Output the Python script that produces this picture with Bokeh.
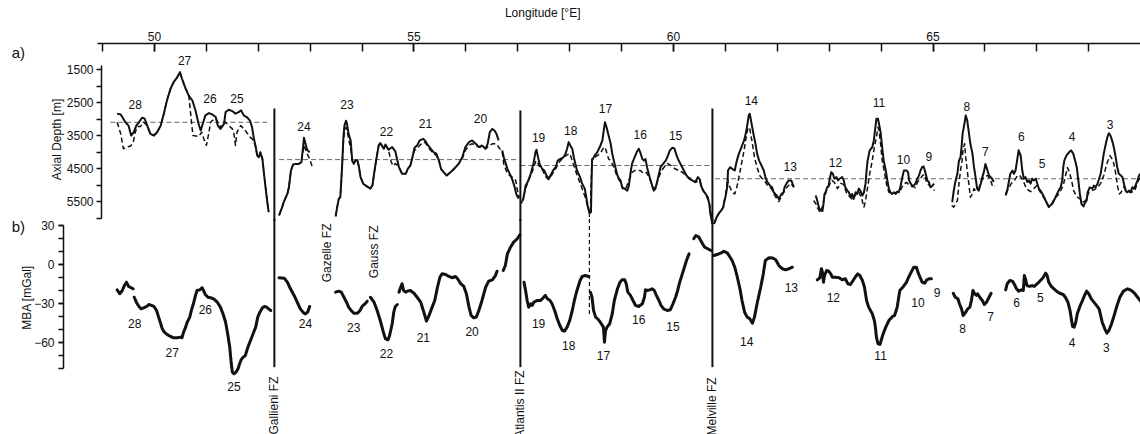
import math
from bokeh.plotting import figure
from bokeh.models import Range1d, LinearAxis, FixedTicker
from bokeh.core.properties import value
from bokeh.embed import file_html
from bokeh.resources import INLINE

FONT = "Liberation Sans"
INK = "#111111"

# ---------------- a) axial depth (m) along the ridge axis ----------------
# section west of Gallieni FZ (segments 28-25)
s1_lon = [49.28, 49.35, 49.44, 49.50, 49.55, 49.60, 49.65, 49.70, 49.76, 49.81, 49.86, 49.92, 49.99, 50.05,
          50.12, 50.18, 50.24, 50.31, 50.37, 50.44, 50.49, 50.53, 50.60, 50.66, 50.73, 50.79, 50.85, 50.89,
          50.94, 50.98, 51.05, 51.11, 51.18, 51.22, 51.27, 51.34, 51.37, 51.43, 51.50, 51.56, 51.62, 51.67,
          51.72, 51.79, 51.84, 51.88, 51.91, 51.95, 51.98, 52.01, 52.04, 52.08, 52.11, 52.14, 52.17, 52.20]
s1_dep = [2840, 2860, 3100, 3200, 3500, 3400, 3200, 3100, 2960, 2990, 3200, 3450, 3500, 3400,
          3200, 2840, 2440, 2080, 1880, 1730, 1580, 1780, 2080, 2290, 2440, 2740, 3150, 3350,
          3100, 2890, 2820, 2860, 2940, 3200, 3300, 3150, 2790, 2720, 2760, 2840, 2790, 2740,
          2890, 2960, 3050, 3250, 3550, 3850, 4110, 4160, 4010, 4210, 4660, 5070, 5470, 5820]
d1_lon = [49.28, 49.35, 49.40, 49.47, 49.54, 49.59, 49.63, 49.67, 49.73, 49.79, 49.86, 49.92, 49.99, 50.05,
          50.12, 50.18, 50.24, 50.31, 50.37, 50.44, 50.49, 50.53, 50.60, 50.66, 50.69, 50.74, 50.85, 50.91,
          50.95, 51.00, 51.05, 51.08, 51.11, 51.18, 51.23, 51.29, 51.35, 51.40, 51.50, 51.53, 51.56, 51.59,
          51.66, 51.75, 51.84, 51.88, 51.91, 51.95, 51.98, 52.01, 52.04, 52.08, 52.11, 52.14, 52.17, 52.20]
d1_dep = [3100, 3450, 3900, 3850, 3820, 3700, 3400, 3230, 3230, 3100, 3200, 3450, 3500, 3400,
          3200, 2840, 2440, 2080, 1880, 1730, 1580, 1780, 2080, 2290, 2740, 3500, 3530, 3400,
          3600, 3800, 3400, 3100, 3050, 2980, 3130, 3260, 3080, 3150, 3300, 3450, 3800, 3400,
          3200, 3350, 3550, 3600, 3650, 3850, 4110, 4160, 4010, 4210, 4660, 5070, 5470, 5820]

# segment 24
s2_lon = [52.40, 52.46, 52.49, 52.56, 52.59, 52.61, 52.63, 52.67, 52.72, 52.78, 52.83, 52.86, 52.88, 52.91,
          52.94, 52.99]
s2_dep = [5920, 5670, 5520, 5270, 5070, 4810, 4560, 4380, 4360, 4360, 4310, 3900, 3570, 3750, 3930, 4010]
d2_lon = [52.40, 52.46, 52.49, 52.56, 52.59, 52.61, 52.63, 52.67, 52.72, 52.78, 52.83, 52.86, 52.88, 52.94,
          52.99, 53.04]
d2_dep = [5920, 5670, 5520, 5270, 5070, 4810, 4560, 4380, 4360, 4360, 4310, 4000, 3800, 4050, 4210, 4440]

# segments 23-20 (to Atlantis II FZ)
s3_lon = [53.49, 53.52, 53.55, 53.58, 53.60, 53.62, 53.64, 53.66, 53.69, 53.71, 53.74, 53.78, 53.81, 53.84,
          53.87, 53.91, 53.94, 53.97, 54.02, 54.10, 54.16, 54.20, 54.24, 54.28, 54.32, 54.35, 54.42, 54.45,
          54.51, 54.58, 54.64, 54.68, 54.71, 54.77, 54.84, 54.88, 54.93, 54.97, 55.01, 55.06, 55.11, 55.18,
          55.22, 55.25, 55.32, 55.38, 55.43, 55.48, 55.52, 55.57, 55.63, 55.67, 55.74, 55.80, 55.86, 55.93,
          55.99, 56.06, 56.12, 56.19, 56.25, 56.31, 56.38, 56.42, 56.46, 56.51, 56.55, 56.59, 56.63]
s3_dep = [5950, 5670, 5420, 5370, 4860, 4260, 3550, 3200, 3050, 3150, 3450, 3650, 4260, 4360,
          4260, 4240, 4460, 4760, 4960, 5050, 5110, 5010, 4560, 4160, 3800, 3730, 3900, 3770,
          3930, 3850, 3980, 4260, 4460, 4660, 4660, 4510, 4410, 4160, 3870, 3800, 3650, 3600,
          3670, 3750, 3900, 4010, 4050, 4260, 4510, 4610, 4710, 4660, 4560, 4460, 4360, 4160,
          3850, 3700, 3650, 3750, 3850, 3800, 3900, 3750, 3400, 3300, 3350, 3450, 3650]
s3b_lon = [56.70, 56.73, 56.76, 56.80, 56.83, 56.86, 56.90, 56.94, 56.97, 57.00, 57.02]
s3b_dep = [3950, 4160, 4310, 4510, 4610, 4710, 4860, 5070, 5270, 5370, 5410]
d3_lon = [53.49, 53.52, 53.55, 53.58, 53.60, 53.62, 53.64, 53.66, 53.69, 53.71, 53.74, 53.78, 53.81, 53.84,
          53.87, 53.91, 53.94, 53.97, 54.02, 54.10, 54.16, 54.20, 54.24, 54.28, 54.32, 54.35, 54.42, 54.45,
          54.51, 54.56, 54.60, 54.64, 54.68, 54.71, 54.77, 54.84, 54.88, 54.93, 54.97, 55.01, 55.06, 55.11,
          55.18, 55.22, 55.25, 55.32, 55.38, 55.43, 55.48, 55.52, 55.57, 55.63, 55.67, 55.74, 55.80, 55.86,
          55.93, 55.99, 56.06, 56.12, 56.19, 56.25, 56.31, 56.38, 56.42, 56.46, 56.51, 56.55, 56.59, 56.63,
          56.70, 56.73, 56.80, 56.89, 56.96, 57.00, 57.03]
d3_dep = [5950, 5670, 5420, 5370, 4860, 4260, 3700, 3400, 3250, 3350, 3600, 3900, 4260, 4360,
          4260, 4240, 4460, 4760, 4960, 5050, 5110, 5010, 4560, 4160, 3800, 3730, 3900, 3800,
          3950, 4300, 4420, 4350, 4400, 4460, 4660, 4660, 4510, 4410, 4160, 3950, 3900, 3800,
          3700, 3720, 3800, 3950, 4050, 4100, 4260, 4510, 4610, 4710, 4660, 4560, 4460, 4360,
          4200, 3950, 3800, 3750, 3800, 3850, 3850, 3900, 3850, 3800, 3750, 3750, 3760, 3850,
          4000, 4360, 4660, 4760, 4860, 5220, 5370]

# segments 19-15 (Atlantis II FZ to Melville FZ)
s4_lon = [57.10, 57.13, 57.15, 57.19, 57.25, 57.30, 57.34, 57.36, 57.39, 57.42, 57.47, 57.51, 57.55, 57.60,
          57.63, 57.68, 57.73, 57.77, 57.82, 57.88, 57.92, 57.95, 57.98, 58.02, 58.05, 58.08, 58.11, 58.14,
          58.20, 58.24, 58.29, 58.32, 58.35, 58.38, 58.41, 58.43, 58.48, 58.53, 58.58, 58.63, 58.66, 58.68,
          58.71, 58.75, 58.79, 58.82, 58.85, 58.88, 58.92, 58.95, 58.98, 59.01, 59.06, 59.11, 59.14, 59.17,
          59.20, 59.25, 59.29, 59.33, 59.36, 59.40, 59.43, 59.46, 59.49, 59.54, 59.59, 59.62, 59.65, 59.69,
          59.72, 59.75, 59.80, 59.85, 59.88, 59.93, 59.98, 60.02, 60.06, 60.10, 60.15, 60.20, 60.25, 60.30,
          60.36, 60.42, 60.47, 60.51, 60.53, 60.57, 60.62, 60.66, 60.69, 60.71, 60.75]
s4_dep = [5470, 5220, 5020, 4910, 4660, 4360, 4010, 3930, 4160, 4360, 4510, 4560, 4710, 4810,
          4710, 4560, 4460, 4260, 4210, 4160, 4050, 3900, 3700, 3830, 3900, 4160, 4360, 4560,
          4760, 4960, 5110, 5370, 5670, 5850, 5820, 4260, 4110, 4010, 3850, 3650, 3300, 3100,
          3250, 3500, 3750, 4050, 4260, 4460, 4710, 4810, 4860, 5070, 5110, 5170, 5020, 4660,
          4360, 4160, 4010, 3900, 4010, 4210, 4260, 4210, 4460, 4760, 5020, 5170, 5110, 4860,
          4660, 4460, 4360, 4260, 4160, 3950, 3870, 3900, 4110, 4260, 4410, 4560, 4710, 4810,
          4860, 4910, 4760, 4840, 5020, 5170, 5270, 5370, 5570, 5870, 6180]
d4_lon = [57.07, 57.13, 57.19, 57.25, 57.30, 57.35, 57.38, 57.42, 57.48, 57.53, 57.59, 57.65, 57.73, 57.82,
          57.90, 57.96, 58.00, 58.05, 58.11, 58.18, 58.24, 58.31, 58.35, 58.39, 58.40, 58.41, 58.43, 58.48,
          58.53, 58.59, 58.66, 58.69, 58.72, 58.75, 58.79, 58.85, 58.92, 58.98, 59.02, 59.08, 59.14, 59.20,
          59.25, 59.31, 59.36, 59.42, 59.48, 59.54, 59.59, 59.65, 59.71, 59.77, 59.83, 59.89, 59.95, 60.02,
          60.10, 60.18, 60.25, 60.33, 60.42, 60.50, 60.56, 60.64, 60.70, 60.74]
d4_dep = [5560, 5230, 4920, 4710, 4500, 4260, 4320, 4440, 4560, 4740, 4830, 4710, 4500, 4260,
          4140, 4080, 4050, 4260, 4560, 4860, 5110, 5420, 5670, 5870, 5820, 5070, 4210, 4160,
          4110, 4050, 3850, 3900, 4050, 4210, 4260, 4460, 4760, 4920, 5110, 5110, 4860, 4620,
          4560, 4560, 4560, 4650, 4620, 4800, 5050, 5110, 4800, 4560, 4440, 4350, 4410, 4500,
          4560, 4620, 4740, 4800, 4920, 4860, 5110, 5350, 5620, 6080]

# segments 14-13
s5_lon = [60.78, 60.83, 60.87, 60.92, 60.96, 60.98, 61.00, 61.04, 61.05, 61.09, 61.13, 61.18, 61.22, 61.26,
          61.31, 61.36, 61.39, 61.42, 61.45, 61.47, 61.50, 61.54, 61.58, 61.61, 61.65, 61.68, 61.74, 61.77,
          61.81, 61.86, 61.90, 61.93, 61.99, 62.03, 62.08, 62.12, 62.14, 62.18, 62.22, 62.27, 62.32]
s5_dep = [6180, 5980, 5870, 5770, 5670, 5470, 5370, 5020, 4560, 4460, 4510, 4560, 4260, 4050,
          3850, 3650, 3450, 3200, 2890, 2840, 3100, 3450, 3750, 4050, 4260, 4360, 4560, 4760,
          4910, 5020, 5070, 5220, 5320, 5420, 5270, 5220, 5070, 4950, 4860, 4860, 5070]
d5_lon = [60.78, 60.87, 60.96, 61.00, 61.04, 61.06, 61.13, 61.18, 61.22, 61.26, 61.31, 61.36, 61.41, 61.44,
          61.47, 61.52, 61.56, 61.61, 61.66, 61.71, 61.77, 61.83, 61.89, 61.93, 61.99, 62.03, 62.08, 62.16,
          62.26, 62.31]
d5_dep = [6180, 5870, 5670, 5370, 4800, 4960, 5220, 5270, 5070, 4760, 4360, 3950, 3450, 3250,
          3300, 3750, 4160, 4460, 4710, 4810, 4910, 5050, 5110, 5260, 5410, 5500, 5350, 5110,
          4950, 5050]

# segments 12-9
s6_lon = [62.74, 62.77, 62.80, 62.83, 62.87, 62.89, 62.91, 62.93, 62.96, 62.99, 63.01, 63.04, 63.07, 63.10,
          63.14, 63.17, 63.20, 63.25, 63.28, 63.31, 63.35, 63.38, 63.41, 63.44, 63.47, 63.51, 63.54, 63.57,
          63.60, 63.64, 63.67, 63.70, 63.72, 63.74, 63.78, 63.83, 63.86, 63.89, 63.91, 63.94, 63.96, 63.99,
          64.02, 64.05, 64.09, 64.12, 64.15, 64.18, 64.21, 64.25, 64.28, 64.31, 64.34, 64.37, 64.41, 64.44,
          64.49, 64.52, 64.54, 64.57, 64.60, 64.63, 64.66, 64.70, 64.73, 64.76, 64.79, 64.82, 64.86, 64.89,
          64.92, 64.95, 64.99, 65.02]
s6_dep = [5320, 5470, 5670, 5770, 5790, 5570, 5270, 5220, 5070, 5020, 4810, 4610, 4660, 4810,
          4760, 4860, 4810, 4760, 4860, 5070, 5170, 5220, 5370, 5270, 5420, 5220, 5270, 5110,
          5170, 5320, 5220, 4960, 4560, 4260, 3950, 3850, 3650, 3250, 2990, 2990, 3150, 3400,
          3850, 4260, 4560, 4860, 5110, 5220, 5270, 5220, 5270, 5200, 5220, 5070, 4760, 4560,
          4560, 4610, 4860, 4960, 5020, 5020, 4960, 4810, 4710, 4560, 4460, 4440, 4660, 4860,
          4910, 5070, 5020, 4960]
d6_lon = [62.70, 62.74, 62.78, 62.83, 62.87, 62.91, 62.95, 63.01, 63.05, 63.10, 63.16, 63.22, 63.28, 63.33,
          63.39, 63.45, 63.51, 63.57, 63.63, 63.67, 63.70, 63.74, 63.78, 63.83, 63.87, 63.91, 63.94, 63.96,
          63.99, 64.02, 64.07, 64.11, 64.15, 64.22, 64.30, 64.37, 64.43, 64.49, 64.55, 64.61, 64.66, 64.70,
          64.76, 64.80, 64.84, 64.88, 64.94, 65.00, 65.03]
d6_dep = [5470, 5560, 5710, 5830, 5650, 5350, 5170, 4980, 4860, 4920, 5110, 4950, 4980, 5230,
          5350, 5440, 5290, 5200, 5440, 5670, 5470, 5070, 4660, 4260, 3850, 3550, 3250, 3350,
          3750, 4260, 4660, 5020, 5220, 5260, 5230, 5170, 4980, 4920, 5020, 5050, 5080, 4920,
          4800, 4710, 4680, 4950, 5020, 5110, 5170]

# segments 8-7
s7_lon = [65.37, 65.40, 65.43, 65.47, 65.50, 65.53, 65.55, 65.57, 65.61, 65.63, 65.66, 65.69, 65.72, 65.76,
          65.79, 65.82, 65.85, 65.88, 65.92, 65.95, 65.98, 66.01, 66.05, 66.08, 66.11, 66.14, 66.17]
s7_dep = [5520, 5170, 4910, 4660, 4260, 4160, 3850, 3450, 3100, 2890, 3050, 3400, 3750, 4050,
          4460, 4760, 5110, 5170, 4960, 4760, 4610, 4360, 4560, 4710, 4760, 4810, 4910]
d7_lon = [65.36, 65.40, 65.47, 65.50, 65.53, 65.56, 65.58, 65.61, 65.63, 65.66, 65.69, 65.72, 65.76, 65.79,
          65.82, 65.88, 65.94, 66.00, 66.05, 66.11, 66.15, 66.19]
d7_dep = [5620, 5670, 5470, 4960, 4560, 4260, 3900, 3750, 4160, 4560, 4960, 5370, 5270, 5110,
          5170, 5110, 4860, 4740, 4710, 4860, 5050, 5020]

# segments 6-3
s8_lon = [66.40, 66.43, 66.46, 66.49, 66.53, 66.56, 66.59, 66.62, 66.65, 66.69, 66.72, 66.75, 66.78, 66.82,
          66.85, 66.88, 66.91, 66.94, 66.98, 67.01, 67.04, 67.07, 67.11, 67.14, 67.17, 67.20, 67.23, 67.26,
          67.30, 67.33, 67.36, 67.39, 67.42, 67.46, 67.49, 67.51, 67.53, 67.57, 67.62, 67.66, 67.70, 67.73,
          67.77, 67.80, 67.83, 67.86, 67.90, 67.92, 67.96, 67.98, 68.02, 68.07, 68.10, 68.13, 68.17, 68.20,
          68.23, 68.26, 68.29, 68.33, 68.36, 68.39, 68.42, 68.46, 68.49, 68.52, 68.55, 68.58, 68.62, 68.65,
          68.68, 68.71, 68.74, 68.78, 68.81, 68.84, 68.87, 68.90, 68.94, 68.97, 69.00]
s8_dep = [5320, 5170, 4910, 4660, 4560, 4660, 4560, 4260, 3950, 4110, 4560, 4810, 4760, 4910,
          4860, 4960, 4810, 4860, 4810, 4960, 5110, 5170, 5270, 5370, 5470, 5570, 5670, 5620,
          5570, 5470, 5370, 5270, 5170, 5070, 4860, 4460, 4260, 4110, 4010, 3950, 4040, 4210,
          4460, 4860, 5270, 5570, 5650, 5570, 5470, 5220, 5070, 5110, 5020, 5070, 4960, 4810,
          4660, 4360, 4050, 3750, 3550, 3430, 3500, 3700, 3900, 4160, 4460, 4660, 4710, 4760,
          4960, 5170, 5220, 5170, 5220, 5070, 5110, 5020, 4860, 4710, 4660]
d8_lon = [66.40, 66.46, 66.51, 66.57, 66.63, 66.67, 66.71, 66.75, 66.80, 66.88, 66.94, 67.00, 67.05, 67.11,
          67.17, 67.23, 67.28, 67.34, 67.40, 67.46, 67.51, 67.55, 67.59, 67.63, 67.67, 67.71, 67.77, 67.83,
          67.88, 67.94, 68.00, 68.06, 68.11, 68.17, 68.23, 68.29, 68.35, 68.41, 68.47, 68.51, 68.56, 68.59,
          68.62, 68.68, 68.74, 68.81, 68.89, 68.94, 69.00]
d8_dep = [5260, 5080, 4950, 4860, 4710, 4710, 4800, 4920, 5110, 5200, 5110, 5020, 5170, 5320,
          5470, 5650, 5590, 5410, 5320, 5170, 5010, 4740, 4470, 4620, 4860, 5170, 5350, 5410,
          5530, 5470, 5230, 5170, 5140, 5080, 4950, 4710, 4350, 4110, 4260, 4560, 5070, 5270,
          5230, 5050, 5170, 5230, 5170, 4920, 4740]

# mean axial depth of each ridge section
mean_lon0 = [49.15, 52.40, 57.05, 60.80]
mean_lon1 = [52.17, 57.02, 60.71, 69.00]
mean_dep = [3100, 4230, 4410, 4810]

# ---------------- b) mantle Bouguer anomaly (mGal) ----------------
b1a_lon = [49.28, 49.33, 49.38, 49.42, 49.46, 49.50, 49.55, 49.59]
b1a_mba = [-19.5, -22.5, -20.0, -16.2, -13.6, -16.9, -17.9, -18.7]
b1_lon = [49.61, 49.65, 49.70, 49.74, 49.79, 49.85, 49.89, 49.94, 49.99, 50.04, 50.08, 50.12, 50.15, 50.19,
          50.24, 50.31, 50.37, 50.44, 50.50, 50.53, 50.56, 50.60, 50.63, 50.68, 50.71, 50.75, 50.79, 50.82,
          50.87, 50.92, 50.95, 50.98, 51.03, 51.08, 51.14, 51.21, 51.27, 51.32, 51.37, 51.41, 51.45, 51.48,
          51.50, 51.53, 51.57, 51.61, 51.64, 51.67, 51.71, 51.75, 51.80, 51.85, 51.90, 51.95, 51.99, 52.03,
          52.08, 52.12, 52.16, 52.20, 52.24]
b1_mba = [-25.2, -29.0, -32.3, -34.1, -33.3, -32.3, -30.8, -31.5, -32.3, -35.4, -40.5, -45.6, -49.5, -52.1,
          -53.8, -55.4, -56.4, -56.4, -55.9, -56.4, -52.1, -48.2, -44.4, -40.5, -35.4, -30.2, -23.8, -20.0,
          -19.5, -17.9, -20.5, -23.1, -25.2, -25.6, -26.4, -29.0, -32.8, -37.9, -44.4, -53.3, -63.6, -76.4,
          -82.8, -84.1, -82.8, -80.2, -76.4, -73.3, -71.3, -70.0, -63.6, -58.5, -53.3, -48.2, -40.5, -36.7,
          -33.3, -32.3, -32.8, -34.1, -35.4]
b2_lon = [52.40, 52.50, 52.56, 52.62, 52.69, 52.75, 52.81, 52.86, 52.90, 52.95, 52.99]
b2_mba = [-10.2, -10.5, -13.6, -18.7, -23.8, -29.0, -34.1, -36.7, -38.0, -36.7, -32.3]
b3a_lon = [53.49, 53.55, 53.60, 53.65, 53.70, 53.74, 53.79, 53.84, 53.91, 53.96, 54.00, 54.07, 54.10]
b3a_mba = [-21.3, -20.5, -21.3, -25.2, -29.0, -32.8, -35.4, -37.5, -37.5, -35.4, -32.3, -29.8, -28.2]
b3b_lon = [54.16, 54.23, 54.29, 54.35, 54.41, 54.45, 54.50, 54.53, 54.58, 54.61, 54.64, 54.68]
b3b_mba = [-25.2, -29.0, -35.4, -43.1, -52.1, -57.2, -57.9, -54.6, -45.6, -36.7, -32.3, -30.8]
b3c_lon = [54.71, 54.74, 54.77, 54.80, 54.84, 54.87, 54.93, 55.00, 55.06, 55.13, 55.19, 55.24, 55.29, 55.35,
           55.40, 55.45, 55.50, 55.54, 55.61, 55.67, 55.74, 55.80, 55.84, 55.90, 55.96, 56.01, 56.06, 56.10,
           56.15, 56.20, 56.25, 56.31, 56.38, 56.44, 56.51, 56.57, 56.60]
b3c_mba = [-21.3, -17.9, -14.8, -20.0, -21.3, -20.5, -20.0, -22.1, -25.2, -29.0, -36.7, -43.6, -39.2, -32.8,
           -27.7, -17.9, -9.8, -7.2, -7.7, -9.2, -10.2, -9.2, -11.0, -14.8, -16.9, -22.5, -32.8, -39.2,
           -41.0, -40.5, -35.4, -27.7, -17.5, -12.8, -11.8, -8.5, -5.2]
b3d_lon = [56.72, 56.76, 56.80, 56.86, 56.92, 56.99, 57.04]
b3d_mba = [-4.6, -0.8, 8.2, 13.3, 17.2, 19.8, 22.8]
b4a_lon = [57.12, 57.15, 57.18, 57.21, 57.25, 57.28, 57.31, 57.37, 57.44, 57.50, 57.53, 57.57, 57.62, 57.66,
           57.71, 57.76, 57.81, 57.86, 57.90, 57.95, 58.00, 58.05, 58.09, 58.14, 58.20, 58.24, 58.30, 58.37]
b4a_mba = [-13.6, -20.0, -27.7, -32.8, -30.2, -31.5, -29.0, -27.7, -27.7, -25.2, -23.8, -26.4, -27.7, -30.2,
           -35.4, -41.8, -46.9, -50.8, -51.3, -48.2, -43.1, -35.4, -27.7, -20.0, -12.3, -9.2, -8.5, -9.2]
b4b_lon = [58.40, 58.43, 58.46, 58.50, 58.54, 58.59, 58.65, 58.67, 58.69, 58.72, 58.77, 58.82, 58.86, 58.92,
           58.97, 59.01, 59.06, 59.09, 59.12, 59.17, 59.22, 59.27, 59.33, 59.40, 59.44, 59.46, 59.49, 59.54,
           59.59, 59.63, 59.67, 59.72, 59.76, 59.81, 59.88, 59.94, 59.99, 60.04, 60.08, 60.12, 60.17, 60.21,
           60.25, 60.30]
b4b_mba = [-21.3, -25.2, -35.4, -40.5, -41.8, -44.4, -48.2, -59.8, -50.8, -48.2, -45.6, -37.9, -27.7, -18.7,
           -13.6, -11.8, -11.8, -14.8, -21.3, -23.8, -27.7, -31.5, -32.3, -30.2, -25.2, -19.5, -20.0, -19.5,
           -18.7, -20.0, -23.8, -27.7, -31.5, -34.1, -35.4, -34.8, -30.2, -25.2, -20.0, -13.6, -7.2, -2.1,
           3.1, 8.2]
b4c_lon = [60.39, 60.43, 60.49, 60.56, 60.60, 60.66, 60.72]
b4c_mba = [19.8, 22.3, 21.0, 15.9, 13.3, 12.1, 10.8]
b5_lon = [60.78, 60.84, 60.91, 60.97, 61.04, 61.09, 61.13, 61.18, 61.23, 61.28, 61.32, 61.37, 61.42, 61.47,
          61.52, 61.56, 61.61, 61.68, 61.73, 61.77, 61.84, 61.91, 61.97, 62.03, 62.10, 62.16, 62.22, 62.29]
b5_mba = [6.9, 7.7, 8.7, 10.2, 8.7, 5.6, 3.1, -2.1, -9.8, -18.7, -27.7, -36.7, -40.5, -41.8,
          -45.2, -40.5, -30.2, -17.5, -7.2, 3.1, 5.2, 5.0, 3.6, -0.8, -3.3, -4.1, -3.3, -2.1]
b6_lon = [62.77, 62.82, 62.85, 62.87, 62.89, 62.91, 62.95, 62.99, 63.03, 63.06, 63.12, 63.19, 63.25, 63.31,
          63.36, 63.41, 63.46, 63.51, 63.55, 63.59, 63.64, 63.68, 63.72, 63.76, 63.83, 63.87, 63.89, 63.91,
          63.94, 63.98, 64.00, 64.04, 64.09, 64.15, 64.22, 64.26, 64.31, 64.36, 64.43, 64.49, 64.53, 64.58,
          64.63, 64.68, 64.71, 64.75, 64.79, 64.84, 64.88, 64.92, 64.97]
b6_mba = [-11.8, -10.2, -3.3, -5.9, -13.6, -8.5, -4.6, -5.2, -7.2, -9.8, -9.8, -10.2, -11.8, -11.0,
          -14.8, -15.4, -12.3, -9.2, -7.2, -8.5, -12.3, -17.5, -27.7, -32.8, -37.9, -43.1, -48.2, -55.9,
          -61.0, -61.5, -58.5, -53.3, -48.2, -43.1, -40.0, -39.2, -32.8, -20.0, -16.9, -13.6, -9.8, -5.9,
          -2.1, -2.1, -5.9, -9.8, -13.6, -14.4, -11.8, -11.0, -11.0]
b7_lon = [65.39, 65.43, 65.48, 65.51, 65.55, 65.58, 65.63, 65.67, 65.71, 65.74, 65.77, 65.80, 65.84, 65.86,
          65.90, 65.95, 65.99, 66.03, 66.08, 66.12]
b7_mba = [-22.1, -25.2, -26.4, -30.2, -34.1, -39.2, -36.7, -34.1, -32.8, -27.7, -20.0, -22.5, -23.8, -22.5,
          -25.2, -27.7, -30.8, -29.0, -25.2, -22.1]
b8_lon = [66.40, 66.43, 66.48, 66.53, 66.57, 66.61, 66.65, 66.70, 66.74, 66.76, 66.79, 66.81, 66.86, 66.91,
          66.95, 67.01, 67.07, 67.12, 67.17, 67.20, 67.23, 67.28, 67.33, 67.38, 67.44, 67.51, 67.55, 67.60,
          67.64, 67.67, 67.69, 67.72, 67.75, 67.78, 67.83, 67.88, 67.92, 67.96, 68.00, 68.05, 68.10, 68.15,
          68.20, 68.23, 68.26, 68.31, 68.35, 68.39, 68.44, 68.49, 68.54, 68.60, 68.67, 68.75, 68.82, 68.89,
          68.95, 69.00]
b8_mba = [-19.5, -14.8, -12.3, -12.8, -15.4, -18.7, -20.5, -19.5, -20.0, -8.5, -12.3, -16.2, -16.9, -16.2,
          -16.9, -14.8, -12.3, -10.2, -6.7, -8.5, -13.6, -16.9, -18.7, -20.5, -22.1, -23.1, -25.2, -29.0,
          -35.4, -43.1, -47.7, -48.2, -44.4, -37.9, -32.3, -27.7, -23.8, -20.5, -22.5, -26.4, -29.0, -31.5,
          -34.1, -39.2, -44.4, -49.5, -52.8, -50.8, -45.6, -39.2, -32.3, -25.2, -20.5, -18.7, -20.0, -22.5,
          -25.6, -28.2]

# ---------------- segment numbers ----------------
seg_names = ["28", "27", "26", "25", "24", "23", "22", "21", "20", "19", "18", "17", "16",
             "15", "14", "13", "12", "11", "10", "9", "8", "7", "6", "5", "4", "3"]
seg_a_lon = [49.63, 50.58, 51.07, 51.59, 52.88, 53.71, 54.47, 55.22, 56.28, 57.40, 58.02, 58.69, 59.36,
             60.04, 61.50, 62.25, 63.12, 63.96, 64.43, 64.92, 65.65, 66.01, 66.70, 67.10, 67.68, 68.41]
seg_a_dep = [2560, 1230, 2370, 2370, 3220, 2570, 3370, 3145, 2995, 3550, 3350, 2690, 3470,
             3500, 2440, 4430, 4310, 2510, 4230, 4140, 2620, 3985, 3520, 4360, 3530, 3170]
seg_b_lon = [49.62, 50.34, 50.98, 51.53, 52.91, 53.84, 54.47, 55.18, 56.12, 57.40, 57.98, 58.65, 59.33,
             59.99, 61.41, 62.27, 63.08, 63.99, 64.71, 65.08, 65.57, 66.11, 66.61, 67.07, 67.68, 68.34]
seg_b_mba = [-45.6, -67.5, -34.8, -93.6, -45.6, -48.2, -68.2, -55.9, -51.5, -45.6, -62.3, -70.0, -42.3,
             -47.7, -59.0, -17.9, -25.2, -70.0, -29.0, -21.3, -49.5, -40.0, -29.0, -25.6, -59.8, -63.6]

# ---------------- fracture zones ----------------
fz_lon = [52.31, 57.05, 60.75]
fz_top_dep = [2680, 2740, 2680]
fz_bottom_mba = -79
fz_label = ["Gallieni FZ", "Atlantis II FZ", "Melville FZ", "Gazelle FZ", "Gauss FZ"]
fz_label_lon = [52.31, 57.05, 60.75, 53.33, 54.23]
fz_label_mba = [-86.2, -81.5, -86.9, 31.5, 30.0]
offset_lon = 58.38          # non-transform offset, dashed
offset_dep0, offset_mba1 = 5850, -39

# ---------------- axes ----------------
lon_major = [50, 55, 60, 65]
lon_minor = list(range(49, 69))
dep_major = [1500, 2500, 3500, 4500, 5500]
dep_minor = [2000, 3000, 4000, 5000, 6000]
mba_major = [30, 0, -30, -60]
mba_minor = list(range(-80, 31, 10))

# the whole canvas is the plotting frame; axes sit at fixed positions inside it
p = figure(width=1140, height=434, output_backend="svg", toolbar_location=None,
           x_range=Range1d(47.033, 68.998), y_range=Range1d(12560, -591),
           x_axis_type=None, y_axis_type=None,
           min_border_left=0, min_border_right=0, min_border_top=0, min_border_bottom=0,
           outline_line_color=None, background_fill_color="white", border_fill_color="white")
p.extra_y_ranges = {"mba": Range1d(-130.8, 203.1)}


def style_axis(ax, tick_in, tick_out, standoff):
    ax.axis_line_color = INK
    ax.axis_line_width = 1.5
    ax.major_tick_line_color = INK
    ax.minor_tick_line_color = INK
    ax.major_tick_line_width = 1.5
    ax.minor_tick_line_width = 1.5
    ax.major_tick_in = tick_in
    ax.major_tick_out = tick_out
    ax.minor_tick_in = tick_in
    ax.minor_tick_out = tick_out
    ax.major_label_standoff = standoff
    ax.major_label_text_font = FONT
    ax.major_label_text_font_size = "12px"
    ax.major_label_text_color = INK


lon_axis = LinearAxis(ticker=FixedTicker(ticks=lon_major, minor_ticks=lon_minor),
                      fixed_location=712, bounds=(48.90, 68.998))
style_axis(lon_axis, 8, 0, 3)
p.add_layout(lon_axis, "above")

dep_axis = LinearAxis(ticker=FixedTicker(ticks=dep_major, minor_ticks=dep_minor),
                      fixed_location=48.979, bounds=(1380, 6000))
style_axis(dep_axis, 0, 5, 3)
p.add_layout(dep_axis, "left")

mba_axis = LinearAxis(ticker=FixedTicker(ticks=mba_major, minor_ticks=mba_minor), y_range_name="mba",
                      fixed_location=48.247, bounds=(-80, 30))
style_axis(mba_axis, 0, 5, 4)
p.add_layout(mba_axis, "left")

# a) axial depth
p.segment(x0=mean_lon0, y0=mean_dep, x1=mean_lon1, y1=mean_dep,
          line_color="#666666", line_width=1, line_dash="5 3")
p.multi_line(xs=[d1_lon, d2_lon, d3_lon, d4_lon, d5_lon, d6_lon, d7_lon, d8_lon],
             ys=[d1_dep, d2_dep, d3_dep, d4_dep, d5_dep, d6_dep, d7_dep, d8_dep],
             line_color=INK, line_width=1.5, line_dash="5 3", line_join="round")
p.multi_line(xs=[s1_lon, s2_lon, s3_lon, s3b_lon, s4_lon, s5_lon, s6_lon, s7_lon, s8_lon],
             ys=[s1_dep, s2_dep, s3_dep, s3b_dep, s4_dep, s5_dep, s6_dep, s7_dep, s8_dep],
             line_color=INK, line_width=2, line_join="round")
p.text(x=seg_a_lon, y=seg_a_dep, text=seg_names, text_font=value(FONT), text_font_size="12px",
       text_color=INK, text_align="center", text_baseline="middle")

# b) mantle Bouguer anomaly
p.multi_line(xs=[b1a_lon, b1_lon, b2_lon, b3a_lon, b3b_lon, b3c_lon, b3d_lon, b4a_lon, b4b_lon, b4c_lon,
                 b5_lon, b6_lon, b7_lon, b8_lon],
             ys=[b1a_mba, b1_mba, b2_mba, b3a_mba, b3b_mba, b3c_mba, b3d_mba, b4a_mba, b4b_mba, b4c_mba,
                 b5_mba, b6_mba, b7_mba, b8_mba],
             y_range_name="mba", line_color=INK, line_width=3, line_join="round", line_cap="round")
p.text(x=seg_b_lon, y=seg_b_mba, text=seg_names, y_range_name="mba", text_font=value(FONT),
       text_font_size="12px", text_color=INK, text_align="center", text_baseline="middle")

# fracture zones crossing both panels
p.segment(x0=fz_lon, y0=fz_top_dep, x1=fz_lon, y1=[6100] * 3, line_color=INK, line_width=2)
p.segment(x0=fz_lon, y0=[35] * 3, x1=fz_lon, y1=[fz_bottom_mba] * 3, y_range_name="mba",
          line_color=INK, line_width=2)
p.segment(x0=[offset_lon], y0=[offset_dep0], x1=[offset_lon], y1=[6100],
          line_color=INK, line_width=1.2, line_dash="4 3")
p.segment(x0=[offset_lon], y0=[35], x1=[offset_lon], y1=[offset_mba1], y_range_name="mba",
          line_color=INK, line_width=1.2, line_dash="4 3")
p.text(x=fz_label_lon, y=fz_label_mba, text=fz_label, y_range_name="mba", text_font=value(FONT),
       text_font_size="12px", text_color=INK, text_align="right", text_baseline="middle",
       angle=math.pi / 2)

# titles and panel letters
p.text(x=[57.48], y=[-200], text=["Longitude [°E]"], text_font=value(FONT), text_font_size="12px",
       text_color=INK, text_align="center", text_baseline="middle")
p.text(x=[47.25], y=[985], text=["a)"], text_font=value(FONT), text_font_size="15px",
       text_color=INK, text_align="left", text_baseline="middle")
p.text(x=[48.13], y=[3620], text=["Axial Depth [m]"], text_font=value(FONT), text_font_size="12px",
       text_color=INK, text_align="center", text_baseline="middle", angle=math.pi / 2)
p.text(x=[47.25], y=[29.5], text=["b)"], y_range_name="mba", text_font=value(FONT),
       text_font_size="15px", text_color=INK, text_align="left", text_baseline="middle")
p.text(x=[47.55], y=[-25.4], text=["MBA [mGal]"], y_range_name="mba", text_font=value(FONT),
       text_font_size="12px", text_color=INK, text_align="center", text_baseline="middle",
       angle=math.pi / 2)

open("out.html", "w").write(file_html(p, INLINE))
